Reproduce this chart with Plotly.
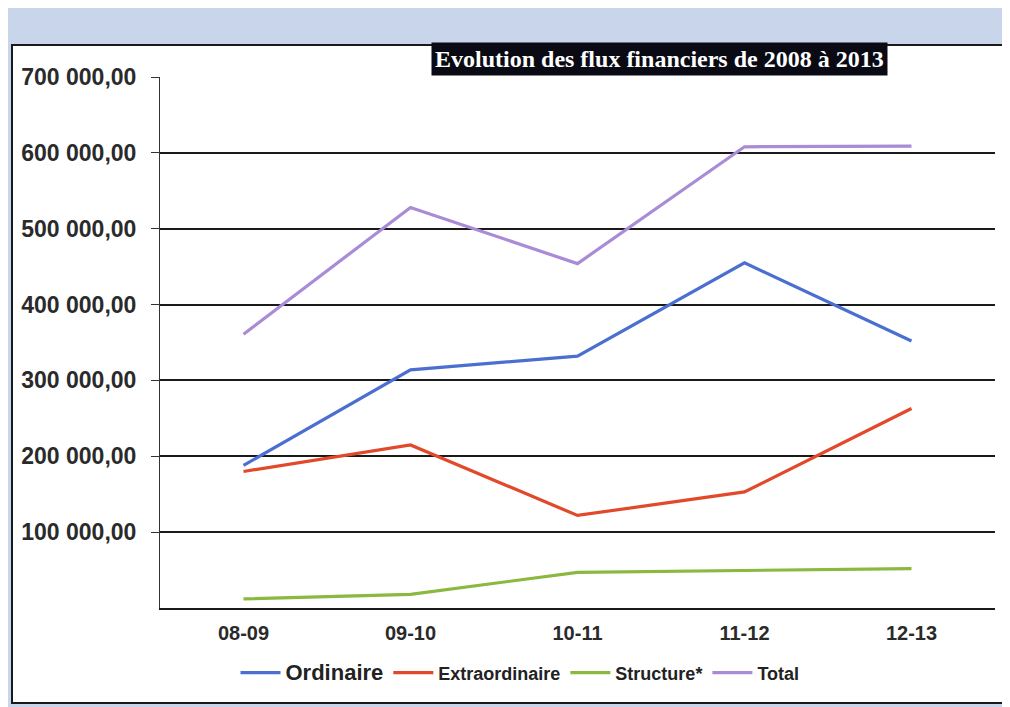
import plotly.graph_objects as go

categories = ["08-09", "09-10", "10-11", "11-12", "12-13"]
ordinaire = [188000, 314000, 332000, 455000, 352000]
extraordinaire = [180000, 215000, 122000, 153000, 263000]
structure = [12000, 18000, 47000, 49000, 52000]
total = [361000, 528000, 454000, 608000, 609000]

series_names = ["Ordinaire", "Extraordinaire", "Structure*", "Total"]
series_colors = ["#4a6fd0", "#e2482a", "#8bb83e", "#a98bd6"]
tick_vals = [100000, 200000, 300000, 400000, 500000, 600000, 700000]
tick_text = ["100 000,00", "200 000,00", "300 000,00", "400 000,00",
             "500 000,00", "600 000,00", "700 000,00"]
title_text = "Evolution des flux financiers de 2008 à 2013"

OFF = 8  # page body margin
W, H = 1010 - OFF, 707 - OFF
# target screen pixels of plot area
SL, SR, ST, SB = 160, 995, 77, 608
L, T = SL - OFF, ST - OFF
R = W - (SR - OFF)
B = H - (SB - OFF)
pw, ph = SR - SL, SB - ST

def px(x):
    return (x - SL) / pw

def py(y):
    return (SB - y) / ph

fig = go.Figure()
for name, vals, col in zip(series_names, [ordinaire, extraordinaire, structure, total], series_colors):
    if name == "Ordinaire":
        label = "<b><span style='font-size:22px'>Ordinaire</span></b>"
    else:
        label = "<b>" + name + "</b>"
    fig.add_trace(go.Scatter(x=categories, y=vals, mode="lines", name=label,
                             line=dict(color=col, width=3.2)))

fig.add_shape(type="rect", xref="paper", yref="paper",
              x0=px(12), x1=px(1014), y0=py(703), y1=py(45),
              fillcolor="white", line=dict(color="#1a1a1a", width=2), layer="below")

fig.add_annotation(xref="paper", yref="paper", x=px(659), y=py(59),
                   text="<b>" + title_text + "</b>", showarrow=False,
                   font=dict(family="Liberation Serif", size=24, color="white"),
                   bgcolor="#0a0a14", borderpad=3, xanchor="center", yanchor="middle")

fig.update_layout(
    width=W, height=H,
    margin=dict(l=L, r=R, t=T, b=B),
    paper_bgcolor="#c8d5ea",
    plot_bgcolor="rgba(0,0,0,0)",
    font=dict(family="Liberation Sans", color="#2a2a2a"),
    showlegend=True,
    legend=dict(orientation="h", x=px(520), y=py(673), xanchor="center", yanchor="middle",
                font=dict(size=18, family="Liberation Sans", color="#222"),
                bgcolor="rgba(0,0,0,0)", itemwidth=40, tracegroupgap=0),
)
fig.update_xaxes(type="category", range=[-0.5, 4.5], showgrid=False,
                 showline=True, linecolor="#1a1a1a", linewidth=2,
                 tickfont=dict(size=20, family="Liberation Sans", color="#2a2a2a"),
                 ticks="", ticklabelstandoff=6,
                 tickvals=categories, ticktext=["<b>" + c + "</b>" for c in categories])
fig.update_yaxes(range=[0, 700000], tickvals=tick_vals,
                 ticktext=["<b>" + t + "</b>" for t in tick_text],
                 showgrid=True, gridcolor="#1a1a1a", gridwidth=2,
                 showline=True, linecolor="#333", linewidth=1,
                 ticks="outside", ticklen=8, tickcolor="#333", ticklabelstandoff=10,
                 tickfont=dict(size=23, family="Liberation Sans", color="#2a2a2a"),
                 zeroline=False)

fig.write_html("out.html")
